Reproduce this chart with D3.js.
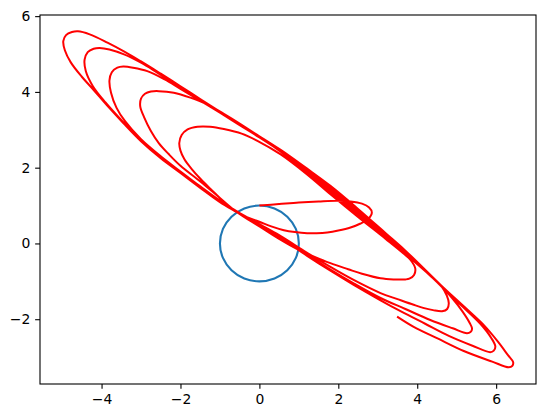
<!DOCTYPE html>
<html>
<head>
<meta charset="utf-8">
<script src="https://cdn.jsdelivr.net/npm/d3@7"></script>
<style>
	body { margin: 0; background: #fff; }
	.tick text { font-family: "DejaVu Sans", sans-serif; font-size: 13.9px; fill: #000; }
	.tick line { stroke: #000; stroke-width: 1.1; }
</style>
</head>
<body>
<div id="container"></div>
<script>
// axis ticks and limits
var xTicks = [-4, -2, 0, 2, 4, 6];
var yTicks = [-2, 0, 2, 4, 6];
var xLim = [-5.56, 7.01];
var yLim = [-3.71, 6.03];

// unit circle
var circle = [
	[1, 0], [0.924, 0.383], [0.707, 0.707], [0.383, 0.924],
	[0, 1], [-0.383, 0.924], [-0.707, 0.707], [-0.924, 0.383],
	[-1, 0], [-0.924, -0.383], [-0.707, -0.707], [-0.383, -0.924],
	[0, -1], [0.383, -0.924], [0.707, -0.707], [0.924, -0.383]
];

// red trajectory, traced point by point
var orbit = [
	// start + small loop
	[0.00, 1.00], [0.50, 1.04], [1.00, 1.08], [1.50, 1.11], [1.97, 1.13], [2.31, 1.11], [2.60, 1.05], [2.78, 0.95],
	[2.85, 0.82], [2.76, 0.65], [2.55, 0.52], [2.31, 0.42], [2.00, 0.34], [1.72, 0.29], [1.45, 0.27], [1.21, 0.27],
	[0.90, 0.30], [0.62, 0.35], [0.30, 0.45], [0.03, 0.56], [-0.30, 0.69], [-0.56, 0.83],
	// loop 1
	[-0.90, 1.10], [-1.20, 1.40], [-1.49, 1.70], [-1.72, 1.97], [-1.90, 2.22], [-2.00, 2.45], [-2.03, 2.65],
	[-1.97, 2.86], [-1.82, 3.01], [-1.57, 3.08], [-1.25, 3.08], [-0.90, 3.02], [-0.45, 2.90], [-0.05, 2.71],
	[0.54, 2.35], [1.20, 1.83], [1.80, 1.30], [2.50, 0.70], [3.20, 0.12], [3.60, -0.22], [3.84, -0.45],
	[3.95, -0.66], [3.92, -0.83], [3.80, -0.93], [3.70, -0.95],
	// loop 2
	[3.40, -0.95], [3.07, -0.92], [2.60, -0.80], [2.25, -0.68], [1.80, -0.52], [1.37, -0.34], [0.96, -0.15],
	[0.50, 0.12], [0.00, 0.45], [-0.56, 0.82], [-1.00, 1.20], [-1.49, 1.63], [-2.00, 2.05], [-2.30, 2.36],
	[-2.55, 2.65], [-2.75, 2.97], [-2.92, 3.33], [-3.02, 3.62], [-3.00, 3.82], [-2.90, 3.95], [-2.75, 4.01],
	[-2.55, 4.02], [-2.17, 3.98], [-1.75, 3.85], [-1.32, 3.67], [-0.90, 3.42], [-0.48, 3.15], [0.00, 2.82],
	[0.54, 2.42], [1.20, 1.88], [1.80, 1.36], [2.50, 0.76], [3.20, 0.15], [3.70, -0.28],
	[4.35, -0.87], [4.62, -1.14], [4.75, -1.38], [4.80, -1.58], [4.76, -1.73], [4.63, -1.79],
	// loop 3
	[4.40, -1.76], [4.15, -1.70], [3.91, -1.62], [3.50, -1.47], [3.07, -1.31], [2.40, -0.97], [1.80, -0.62],
	[1.20, -0.24], [0.50, 0.22], [0.00, 0.51], [-0.56, 0.84], [-1.00, 1.13], [-1.49, 1.50], [-2.00, 1.90],
	[-2.50, 2.30], [-3.00, 2.75], [-3.40, 3.22], [-3.62, 3.58], [-3.76, 3.98], [-3.80, 4.30], [-3.74, 4.52],
	[-3.60, 4.64], [-3.45, 4.67], [-3.20, 4.64], [-2.84, 4.55], [-2.40, 4.33], [-2.00, 4.08], [-1.50, 3.77],
	[-1.00, 3.45], [-0.50, 3.12], [0.00, 2.80], [0.54, 2.43], [1.20, 1.92], [1.80, 1.42], [2.50, 0.81],
	[3.20, 0.19], [3.70, -0.25], [4.50, -1.02], [4.90, -1.46], [5.15, -1.80], [5.33, -2.10],
	[5.39, -2.25], [5.35, -2.34], [5.26, -2.37],
	// loop 4
	[4.90, -2.24], [4.33, -2.02], [3.70, -1.73], [3.07, -1.44], [2.40, -1.06], [1.80, -0.69], [1.20, -0.29],
	[0.50, 0.19], [0.00, 0.49], [-0.56, 0.83], [-1.00, 1.11], [-1.49, 1.48], [-2.00, 1.88], [-2.50, 2.27],
	[-3.00, 2.72], [-3.45, 3.20], [-3.90, 3.72], [-4.22, 4.15], [-4.40, 4.55], [-4.43, 4.85], [-4.35, 5.05],
	[-4.20, 5.14], [-4.05, 5.16], [-3.80, 5.12], [-3.43, 4.99], [-3.00, 4.77], [-2.59, 4.51], [-2.00, 4.12],
	[-1.50, 3.79], [-1.00, 3.46], [-0.50, 3.13], [0.00, 2.81], [0.54, 2.45], [1.20, 1.95], [1.80, 1.47],
	[2.50, 0.86], [3.20, 0.23], [3.70, -0.22], [4.60, -1.12], [5.10, -1.62], [5.60, -2.12],
	[5.88, -2.50], [5.98, -2.72], [5.94, -2.83], [5.85, -2.87],
	// loop 5
	[5.40, -2.70], [4.80, -2.44], [4.20, -2.12], [3.60, -1.80], [3.07, -1.50], [2.40, -1.10], [1.80, -0.72],
	[1.20, -0.32], [0.50, 0.17], [0.00, 0.48], [-0.56, 0.82], [-1.00, 1.09], [-1.49, 1.46], [-2.00, 1.86],
	[-2.50, 2.25], [-3.00, 2.70], [-3.45, 3.18], [-3.85, 3.63], [-4.20, 4.05], [-4.50, 4.40], [-4.78, 4.78],
	[-4.93, 5.10], [-4.97, 5.34], [-4.90, 5.50], [-4.75, 5.58], [-4.60, 5.60], [-4.30, 5.52], [-3.85, 5.30],
	[-3.40, 5.05], [-3.01, 4.81], [-2.50, 4.48], [-2.00, 4.15], [-1.50, 3.81], [-1.00, 3.48], [-0.50, 3.14],
	[0.00, 2.83], [0.54, 2.47], [1.20, 1.98], [1.80, 1.52], [2.50, 0.91], [3.20, 0.27], [3.70, -0.19],
	[4.60, -1.10], [5.20, -1.68], [5.70, -2.17], [6.05, -2.60], [6.30, -2.95], [6.43, -3.13],
	[6.41, -3.23], [6.32, -3.27],
	// tail
	[5.90, -3.12], [5.18, -2.84], [4.50, -2.50], [3.91, -2.20], [3.49, -1.93]
];

(function () {
	var margin = {top: 15, right: 10, bottom: 34, left: 40},
		width = 546 - margin.left - margin.right,
		height = 418 - margin.top - margin.bottom;

	var xScale = d3.scaleLinear().domain(xLim).range([0, width]);
	var yScale = d3.scaleLinear().domain(yLim).range([height, 0]);

	var svg = d3.select("#container")
		.append("svg")
			.attr("width", 546)
			.attr("height", 418)
		.append("g")
			.attr("transform", "translate(" + margin.left + "," + margin.top + ")");

	svg.append("defs").append("clipPath")
		.attr("id", "clip")
		.append("rect")
			.attr("width", width)
			.attr("height", height);

	var line = d3.line()
		.x(function(d) { return xScale(d[0]); })
		.y(function(d) { return yScale(d[1]); });

	// blue circle
	svg.append("path")
		.datum(circle)
		.attr("clip-path", "url(#clip)")
		.attr("fill", "none")
		.attr("stroke", "#1f77b4")
		.attr("stroke-width", 2.1)
		.attr("d", line.curve(d3.curveCatmullRomClosed.alpha(0.5)));

	// red orbit
	svg.append("path")
		.datum(orbit)
		.attr("clip-path", "url(#clip)")
		.attr("fill", "none")
		.attr("stroke", "#ff0000")
		.attr("stroke-width", 2)
		.attr("stroke-linejoin", "round")
		.attr("d", line.curve(d3.curveCatmullRom.alpha(0.5)));

	// axes
	svg.append("g")
		.attr("transform", "translate(0," + height + ")")
		.call(d3.axisBottom(xScale).tickValues(xTicks).tickSize(4.86).tickPadding(4.86).tickSizeOuter(0))
		.call(function(g) { g.select(".domain").remove(); });

	svg.append("g")
		.call(d3.axisLeft(yScale).tickValues(yTicks).tickSize(4.86).tickPadding(4.86).tickSizeOuter(0))
		.call(function(g) { g.select(".domain").remove(); });

	svg.selectAll(".tick text").attr("font-family", null).attr("font-size", null);

	// frame
	svg.append("rect")
		.attr("width", width)
		.attr("height", height)
		.attr("fill", "none")
		.attr("stroke", "#000")
		.attr("stroke-width", 1.1);
})();
</script>
</body>
</html>
